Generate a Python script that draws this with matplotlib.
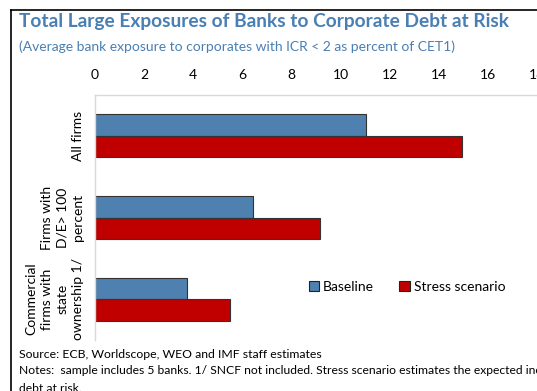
import matplotlib
matplotlib.use("Agg")
import matplotlib.pyplot as plt
from matplotlib.lines import Line2D
from matplotlib.patches import Patch
import numpy as np

plt.rcParams['font.family'] = ['Lato', 'DejaVu Sans']

categories = ["All firms", "Firms with\nD/E> 100\npercent", "Commercial\nfirms with\nstate\nownership 1/"]
baseline = [11.05, 6.45, 3.75]
stress = [14.95, 9.15, 5.5]
series_names = ["Baseline", "Stress scenario"]
xticks = [0, 2, 4, 6, 8, 10, 12, 14, 16, 18]

title = "Total Large Exposures of Banks to Corporate Debt at Risk"
subtitle = "(Average bank exposure to corporates with ICR < 2 as percent of CET1)"
source = "Source: ECB, Worldscope, WEO and IMF staff estimates"
notes1 = "Notes:  sample includes 5 banks. 1/ SNCF not included. Stress scenario estimates the expected increase in"
notes2 = "debt at risk."

W, H = 537, 391
fig = plt.figure(figsize=(W/100, H/100), dpi=100)
ax = fig.add_axes([95/W, 1-340/H, 1-95/W, (340-95)/H])

blue = "#4f81b0"
red = "#c00000"
title_col = "#4a7fb3"

y = np.arange(len(categories))
h = 0.262
ax.barh(y - h/2, baseline, height=h, color=blue, edgecolor="#333333", linewidth=0.8, label=series_names[0])
ax.barh(y + h/2, stress, height=h, color=red, edgecolor="#333333", linewidth=0.8, label=series_names[1])

ax.set_xlim(0, 18)
ax.set_ylim(2.5, -0.5)
ax.xaxis.tick_top()
ax.set_xticks(xticks)
ax.set_xticklabels([str(t) for t in xticks], fontsize=10)
ax.tick_params(axis='x', length=0, pad=10)
ax.set_yticks(y)
ax.set_yticklabels(categories, rotation=90, va='center', ha='right', multialignment='center', fontsize=10, linespacing=1.35)
ax.tick_params(axis='y', length=0, pad=8)
for s in ['right', 'bottom']:
    ax.spines[s].set_visible(False)
for s in ['top', 'left']:
    ax.spines[s].set_color("#d9d9d9")
    ax.spines[s].set_linewidth(1.0)

handles = [Patch(facecolor=blue, edgecolor="#222222", linewidth=0.8),
           Patch(facecolor=red, edgecolor="#222222", linewidth=0.8)]
fig.legend(handles, series_names, loc='center left', bbox_to_anchor=(303/W, 1-287/H),
           ncol=2, frameon=False, fontsize=10, handlelength=0.75, handleheight=0.75,
           handletextpad=0.3, columnspacing=1.8, borderaxespad=0)

fig.text(19/W, 1-22/H, title, fontsize=13.8, fontweight='bold', color=title_col, va='center', ha='left')
fig.text(19/W, 1-47/H, subtitle, fontsize=10, color=title_col, va='center', ha='left')
fig.text(19/W, 1-354/H, source, fontsize=8.8, color='black', va='center', ha='left')
fig.text(19/W, 1-371/H, notes1, fontsize=8.75, color='black', va='center', ha='left')
fig.text(19/W, 1-388/H, notes2, fontsize=8.75, color='black', va='center', ha='left')

fig.add_artist(Line2D([11/W, 11/W], [0, 1-10/H], color='black', linewidth=1.2, transform=fig.transFigure))
fig.add_artist(Line2D([11/W, 1], [1-10/H, 1-10/H], color='black', linewidth=1.2, transform=fig.transFigure))

fig.savefig("out.png", dpi=100)
